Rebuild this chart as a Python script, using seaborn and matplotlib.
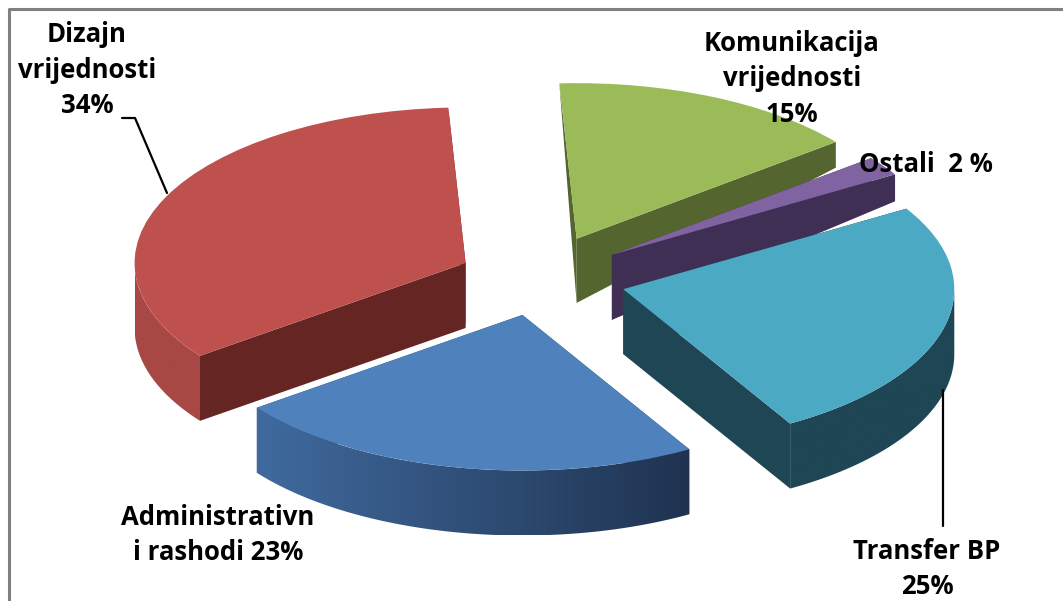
import matplotlib
matplotlib.use("Agg")
import matplotlib.pyplot as plt
import matplotlib.colors as mcolors
import numpy as np
import seaborn as sns
from matplotlib.patches import Polygon

# Pie values, clockwise from the top
categories = ["Komunikacija vrijednosti", "Ostali", "Transfer BP", "Administrativni rashodi", "Dizajn vrijednosti"]
shares = [15, 2, 25, 23, 34]

top_colors = ["#9BBB59", "#8064A2", "#4BA9C4", "#4F81BD", "#BE504D"]
cut_colors = ["#55652F", "#3F2F55", "#1F4654", "#2A4568", "#652523"]
rim_left = ["#55652F", "#3F2F55", "#1F4654", "#406A9E", "#A84845"]
rim_right = ["#55652F", "#3F2F55", "#1F4654", "#1F3350", "#A84845"]
explode = [94, 90, 88, 78, 80]
draw_order = [10, 20, 30, 40, 30]

labels = ["Komunikacija\nvrijednosti\n15%", "Ostali  2 %", "Transfer BP\n25%",
          "Administrativn\ni rashodi 23%", "Dizajn\nvrijednosti\n34%"]
label_x = [792, 926, 927, 218, 87]
label_y = [79, 165, 569, 535, 70]

SQUASH = 0.47
RADIUS = 331
W, H = 1063, 601


def to_y(py):
    return -py / SQUASH


def depth_at(py):
    # the pie's depth shrinks towards the back
    return np.interp(py, [85, 145, 180, 240], [0, 27, 27, 65])


sns.set_theme(style="white")
plt.rcParams["font.family"] = ["Open Sans", "DejaVu Sans"]

fig = plt.figure(figsize=(W / 100, H / 100), dpi=100)
ax = fig.add_axes([0, 0, 1, 1])

wedges, _ = ax.pie(shares, radius=RADIUS, center=(538, to_y(279)), startangle=93, counterclock=False,
                   colors=top_colors, explode=explode, wedgeprops={"linewidth": 0})

for i, w in enumerate(wedges):
    base = draw_order[i]
    w.set_zorder(base + 2)
    cx, cy = w.center
    apex_py = -cy * SQUASH
    angles = np.radians(np.linspace(w.theta1, w.theta2, 400))
    xs = cx + w.r * np.cos(angles)
    ys = cy + w.r * np.sin(angles)
    drop = depth_at(-ys * SQUASH) / SQUASH

    # cut faces
    apex_drop = depth_at(apex_py) / SQUASH
    for j in [0, -1]:
        face = [(cx, cy), (xs[j], ys[j]), (xs[j], ys[j] - drop[j]), (cx, cy - apex_drop)]
        ax.add_patch(Polygon(face, closed=True, facecolor=cut_colors[i], edgecolor="none", zorder=base))

    # rim: only the front half shows, a horizontal gradient clipped to its outline
    front = np.sin(angles) <= 0
    if not front.any():
        continue
    fx, fy, fd = xs[front], ys[front], drop[front]
    outline = np.column_stack([np.r_[fx, fx[::-1]], np.r_[fy, (fy - fd)[::-1]]])
    rim = Polygon(outline, closed=True, facecolor="none", edgecolor="none", transform=ax.transData)
    ax.add_patch(rim)
    grad = np.linspace(mcolors.to_rgb(rim_left[i]), mcolors.to_rgb(rim_right[i]), 256)[np.newaxis, :, :]
    img = ax.imshow(grad, extent=(fx.min(), fx.max(), (fy - fd).min(), fy.max()), aspect="auto",
                    interpolation="bilinear", zorder=base + 1)
    img.set_clip_path(rim)

ax.set_aspect("auto")
ax.set_xlim(0, W)
ax.set_ylim(to_y(H), 0)
ax.axis("off")

# leader lines
ax.plot([122, 135, 167], [to_y(118), to_y(118), to_y(193)], color="black", lw=1.6, zorder=50)
ax.plot([943, 943], [to_y(390), to_y(526)], color="black", lw=1.6, zorder=50)

# frame
ax.plot([8.5, 8.5, W], [to_y(H), to_y(9), to_y(9)], color="#808080", lw=2.2, zorder=60, clip_on=False)

for text, x, py in zip(labels, label_x, label_y):
    ax.text(x, to_y(py), text, ha="center", va="center", fontsize=18.5, fontweight="bold",
            color="black", linespacing=1.4, zorder=70)

fig.savefig("out.png", dpi=100)
